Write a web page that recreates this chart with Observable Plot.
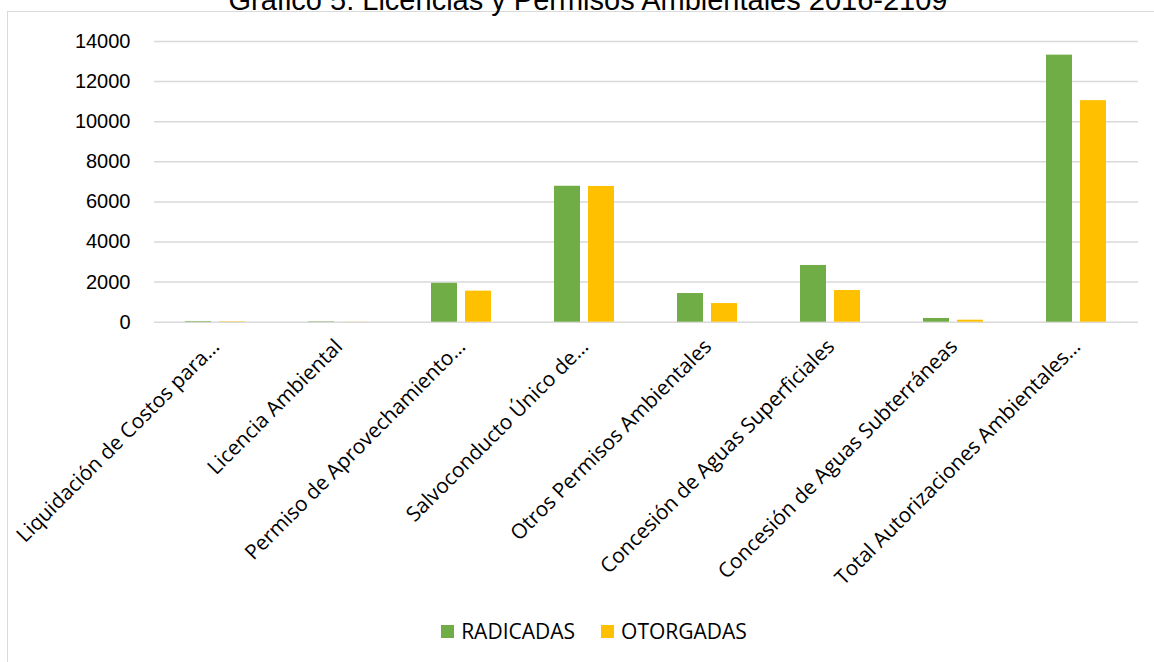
<!DOCTYPE html>
<html>
<head>
<meta charset="utf-8">
<script src="https://cdn.jsdelivr.net/npm/d3@7"></script>
<script src="https://cdn.jsdelivr.net/npm/@observablehq/plot@0.6"></script>
<style>
  html, body { margin: 0; padding: 0; background: #fff; overflow: hidden; }
  #page { position: relative; width: 1154px; height: 662px; overflow: hidden; }
  #frame { position: absolute; left: 7px; top: 11px; width: 1200px; height: 700px; border: 1.5px solid #d9d9d9; box-sizing: border-box; }
  #title { position: absolute; left: 11px; width: 1154px; top: -14.5px; text-align: center; font-family: "Liberation Sans", Arial, sans-serif; font-size: 29px; line-height: 29px; color: #000; white-space: nowrap; }
  #chart { position: absolute; left: 0; top: 0; }
  #legend { position: absolute; left: 17px; width: 1154px; top: 617px; display: flex; justify-content: center; gap: 26px; font-family: "Open Sans", sans-serif; font-size: 21px; color: #000; }
  .item { display: flex; align-items: center; gap: 7px; }
  .sw { width: 13px; height: 13px; display: inline-block; }
</style>
</head>
<body>
<div id="page">
  <div id="frame"></div>
  <div id="chart"></div>
  <div id="title">Grafico 5: Licencias y Permisos Ambientales 2016-2109</div>
  <div id="legend"></div>
</div>
<script>
const categories = [
  "Liquidación de Costos para…",
  "Licencia Ambiental",
  "Permiso de Aprovechamiento…",
  "Salvoconducto Único de…",
  "Otros Permisos Ambientales",
  "Concesión de Aguas Superficiales",
  "Concesión de Aguas Subterráneas",
  "Total Autorizaciones Ambientales…"
];
const series = ["RADICADAS", "OTORGADAS"];
const radicadas = [30, 20, 1940, 6780, 1430, 2830, 185, 13320];
const otorgadas = [20, 5, 1550, 6770, 930, 1580, 100, 11050];
const yTicks = [0, 2000, 4000, 6000, 8000, 10000, 12000, 14000];
const colors = ["#70ad47", "#ffc000"];

const data = categories.flatMap((c, i) => [
  {cat: c, serie: series[0], value: radicadas[i]},
  {cat: c, serie: series[1], value: otorgadas[i]}
]);

const H = 600;
const chart = Plot.plot({
  width: 1154,
  height: H,
  marginTop: 41,
  marginBottom: H - 321.7,
  marginLeft: 152,
  marginRight: 14,
  style: {background: "transparent", fontFamily: "Liberation Sans, Arial, sans-serif"},
  fx: {domain: categories, padding: 0, label: null, axis: null},
  x: {domain: series, paddingInner: 0.23, paddingOuter: 0.88, axis: null},
  y: {domain: [0, 14000], label: null, axis: null},
  color: {domain: series, range: colors},
  marks: [
    Plot.ruleY(yTicks, {stroke: "#d9d9d9", strokeWidth: 1.5}),
    Plot.barY(data, {fx: "cat", x: "serie", y: "value", fill: "serie"}),
    Plot.axisY({ticks: yTicks, tickFormat: d => String(d), tickSize: 0, tickPadding: 24, fontSize: 20, label: null, fill: "#000"}),
    Plot.axisFx({anchor: "bottom", tickSize: 0, tickPadding: 21, tickRotate: -45, fontSize: 20.7, label: null, fontFamily: "Open Sans", fill: "#000"})
  ]
});
document.getElementById("chart").appendChild(chart);

const legend = document.getElementById("legend");
series.forEach((s, i) => {
  const it = document.createElement("div");
  it.className = "item";
  const sw = document.createElement("span");
  sw.className = "sw";
  sw.style.background = colors[i];
  const t = document.createElement("span");
  t.textContent = s;
  it.appendChild(sw); it.appendChild(t);
  legend.appendChild(it);
});
</script>
</body>
</html>
